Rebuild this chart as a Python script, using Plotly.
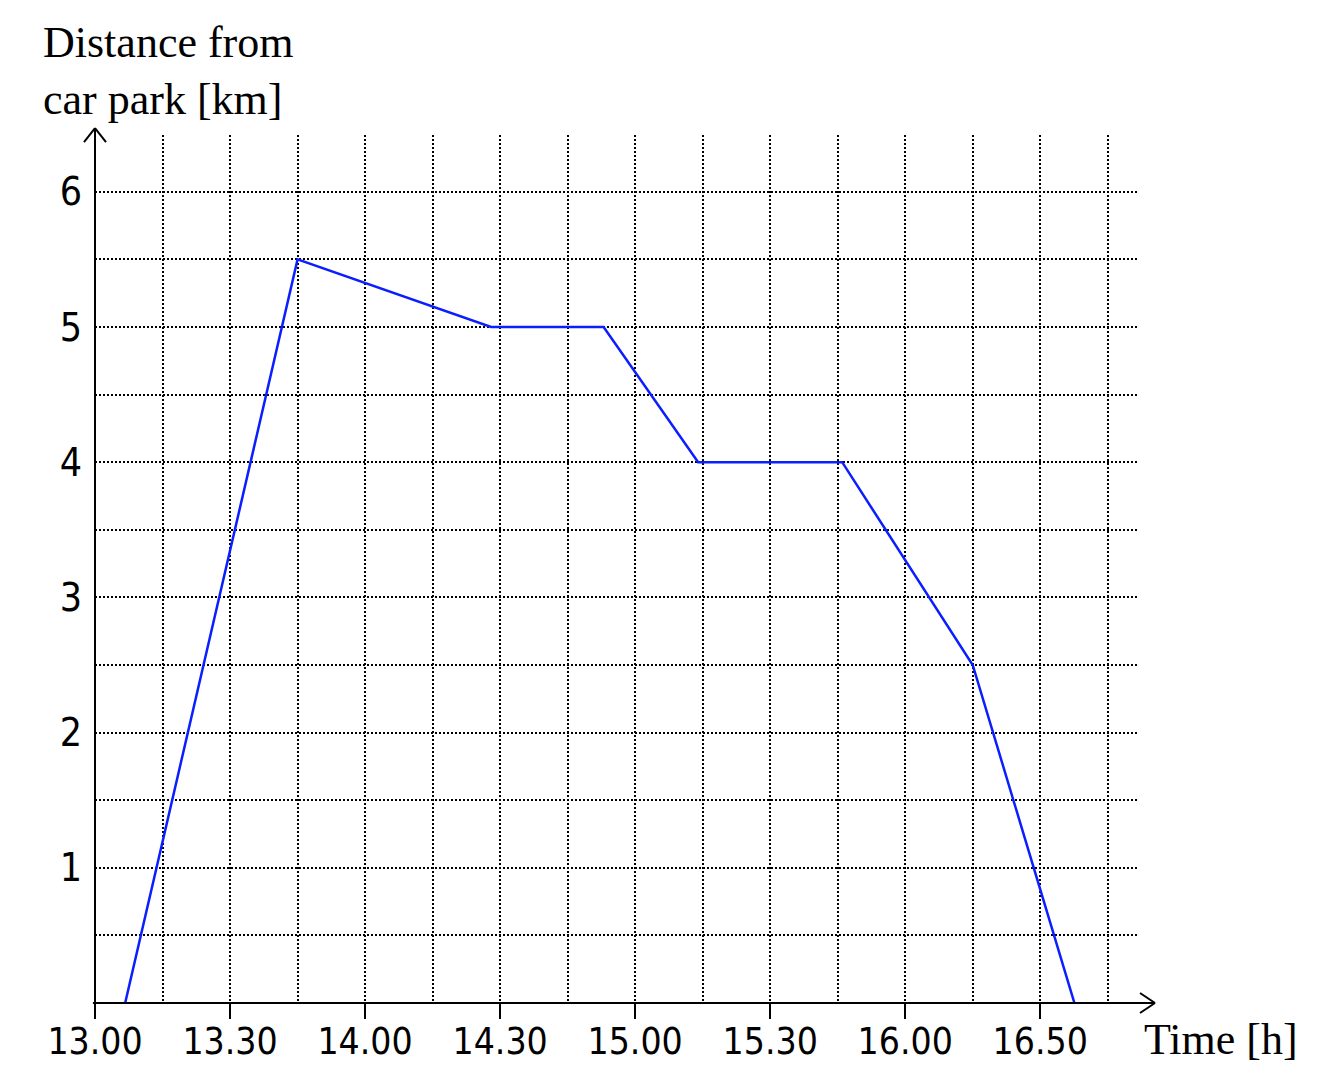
import plotly.graph_objects as go

# walk: minutes after 13.00 vs distance from the car park
minutes = [6.7, 45, 88, 113, 134, 166, 195, 217.6]
distance_km = [0, 5.5, 5, 5, 4, 4, 2.5, 0]

tick_minutes = [0, 30, 60, 90, 120, 150, 180, 210]
tick_labels = ["13.00", "13.30", "14.00", "14.30", "15.00", "15.30", "16.00", "16.50"]
km_ticks = [1, 2, 3, 4, 5, 6]
km_labels = ["1", "2", "3", "4", "5", "6"]

X_MAX = 231.5   # grid ends here
Y_MAX = 6.42
X_TIP = 235.5   # arrow tips sit a little past the grid
Y_TIP = 6.47

SERIF = "Liberation Serif, Times New Roman, serif"
NARROW = "Liberation Sans Narrow, Arial Narrow, DejaVu Sans Condensed, Liberation Sans, sans-serif"
DOTS = "2px,2px"


def line(x0, y0, x1, y1):
    return dict(type="line", xref="x domain", yref="y domain",
                x0=x0, y0=y0, x1=x1, y1=y1, layer="above",
                line=dict(color="black", width=2))


def arm(xa, ya, dx, dy):
    return dict(type="line", xref="x domain", yref="y domain",
                xsizemode="pixel", ysizemode="pixel", xanchor=xa, yanchor=ya,
                x0=0, y0=0, x1=dx, y1=dy, layer="above",
                line=dict(color="black", width=2))


fig = go.Figure()
fig.add_trace(go.Scatter(x=minutes, y=distance_km, mode="lines",
                         line=dict(color="#0a1eff", width=2.5),
                         hoverinfo="skip", showlegend=False))

xt, yt = X_TIP / X_MAX, Y_TIP / Y_MAX
shapes = [
    line(-0.002, 0, xt, 0),
    line(0, 0, 0, yt),
    arm(xt, 0, -15, 10), arm(xt, 0, -15, -10),
    arm(0, yt, -11, -14), arm(0, yt, 11, -14),
]

# page body has an 8px margin, so the figure is 8px smaller and margins shifted
fig.update_layout(
    width=1312, height=1082,
    margin=dict(l=87, r=183, t=127, b=87),
    paper_bgcolor="white", plot_bgcolor="white",
    shapes=shapes,
    xaxis=dict(range=[0, X_MAX], tickvals=tick_minutes, ticktext=tick_labels,
               showgrid=True, gridcolor="black", gridwidth=2, griddash=DOTS,
               minor=dict(dtick=15, tick0=0, showgrid=True, gridcolor="black",
                          gridwidth=2, griddash=DOTS, ticks=""),
               ticks="outside", ticklen=15, tickwidth=2, tickcolor="black",
               ticklabelstandoff=-9,
               tickfont=dict(family=NARROW, size=37, color="black"),
               showline=False, zeroline=False, fixedrange=True, automargin=False),
    yaxis=dict(range=[0, Y_MAX], tickvals=km_ticks, ticktext=km_labels,
               showgrid=True, gridcolor="black", gridwidth=2, griddash=DOTS,
               minor=dict(dtick=0.5, tick0=0, showgrid=True, gridcolor="black",
                          gridwidth=2, griddash=DOTS, ticks=""),
               ticks="", ticklabelstandoff=12,
               tickfont=dict(family=NARROW, size=39, color="black"),
               showline=False, zeroline=False, fixedrange=True, automargin=False),
    annotations=[
        dict(text="Distance from<br>car park [km]", xref="paper", yref="paper",
             x=-0.052, y=1.137, xanchor="left", yanchor="top", align="left",
             showarrow=False, font=dict(family=SERIF, size=44, color="black")),
        dict(text="Time [h]", xref="paper", yref="paper",
             x=1.005, y=-0.0426, xanchor="left", yanchor="middle",
             showarrow=False, font=dict(family=SERIF, size=44, color="black")),
    ],
)

fig.write_html("out.html")
